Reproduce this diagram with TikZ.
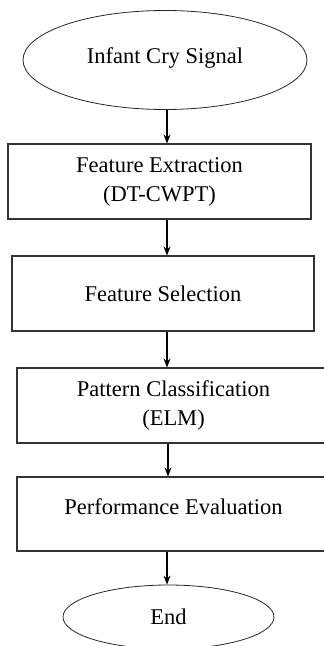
\documentclass[tikz,border=0pt]{standalone}
\usepackage{fontspec}
\setmainfont{Liberation Serif}
\usetikzlibrary{shapes.geometric,arrows.meta}
\begin{document}
\begin{tikzpicture}[x=1pt,y=-1pt,
  every node/.style={font=\fontsize{22.5}{29}\selectfont, align=center, inner sep=0pt},
  stepbox/.style={draw=black!80, line width=1.1pt, rectangle},
  oval/.style={draw=black!85, line width=0.8pt, ellipse},
  flow/.style={-{Stealth[length=9pt,width=7pt]}, line width=1.1pt}]
\useasboundingbox (0,0) rectangle (324,646);
\node[oval, minimum width=284pt, minimum height=99pt] (start) at (165,60) {\raisebox{2pt}[\height][\depth]{Infant Cry Signal}};
\node[stepbox, minimum width=303pt, minimum height=75pt] (fe) at (159.5,181.5) {Feature Extraction\\(DT-CWPT)};
\node[stepbox, minimum width=302pt, minimum height=75pt] (fs) at (163,293.5) {Feature Selection};
\node[stepbox, minimum width=313pt, minimum height=75pt] (pc) at (173.5,405.5) {Pattern Classification\\(ELM)};
\node[stepbox, minimum width=313pt, minimum height=74pt] (pe) at (173.5,514) {\raisebox{7pt}[\height][\depth]{Performance Evaluation}};
\node[oval, minimum width=211pt, minimum height=64pt] (end) at (168.5,617) {End};
\coordinate (ax) at (167,0);
\coordinate (bx) at (168,0);
\draw[flow] (start.south -| ax) -- (fe.north -| ax);
\draw[flow] (fe.south -| ax) -- (fs.north -| ax);
\draw[flow] (fs.south -| ax) -- (pc.north -| ax);
\draw[flow] (pc.south -| bx) -- (pe.north -| bx);
\draw[flow] (pe.south -| ax) -- (end.north -| ax);
\end{tikzpicture}
\end{document}
